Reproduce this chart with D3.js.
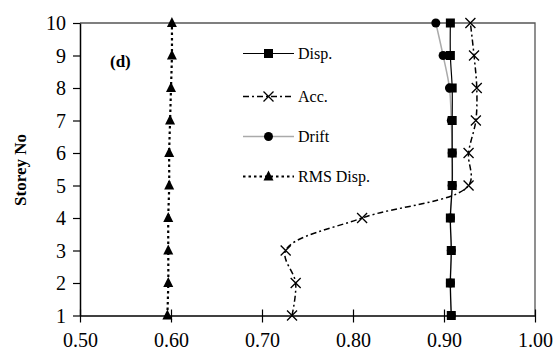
<!DOCTYPE html>
<html><head><meta charset="utf-8">
<script src="https://cdn.jsdelivr.net/npm/d3@7"></script>
<style>
html,body{margin:0;padding:0;background:#fff;}
svg{display:block;font-family:"Liberation Serif","Times New Roman",serif;}
</style></head>
<body>
<svg id="c" width="554" height="359"></svg>
<script>
const storeys = [1,2,3,4,5,6,7,8,9,10];
const dispValues = [0.908,0.907,0.908,0.907,0.909,0.909,0.909,0.909,0.907,0.907];
const accValues = [0.733,0.737,0.726,0.810,0.927,0.927,0.935,0.936,0.933,0.929];
const driftValues = [0.908,0.907,0.908,0.907,0.909,0.909,0.908,0.906,0.899,0.891];
const rmsValues = [0.596,0.597,0.597,0.597,0.598,0.598,0.599,0.600,0.601,0.601];
const xTicks = [0.5,0.6,0.7,0.8,0.9,1.0];
const yTicks = [1,2,3,4,5,6,7,8,9,10];
const seriesNames = ["Disp.","Acc.","Drift","RMS Disp."];

const svg = d3.select("#c");
const x = d3.scaleLinear().domain([0.5,1.0]).range([80,535]);
const y = d3.scaleLinear().domain([1,10]).range([315.5,23]);

// frame (top/right)
svg.append("path").attr("d",`M${x(0.5)},${y(10)}H${x(1.0)}V${y(1)}`)
  .attr("fill","none").attr("stroke","#555").attr("stroke-width",1.3);

// axes
const gx = svg.append("g").attr("transform",`translate(0,${y(1)})`)
  .call(d3.axisBottom(x).tickValues(xTicks).tickSize(7).tickSizeOuter(0).tickFormat(d3.format(".2f")));
gx.select(".domain").attr("stroke","#000").attr("stroke-width",1.5);
gx.selectAll(".tick line").attr("y1",-6).attr("stroke","#000").attr("stroke-width",1.2);
gx.selectAll(".tick text").attr("font-family","Liberation Serif, serif").attr("font-size",20).attr("fill","#000").attr("dy",0).attr("y",31);

const gy = svg.append("g").attr("transform",`translate(${x(0.5)},0)`)
  .call(d3.axisLeft(y).tickValues(yTicks).tickSize(7).tickSizeOuter(0).tickFormat(d3.format("d")));
gy.select(".domain").attr("stroke","#000").attr("stroke-width",1.5);
gy.selectAll(".tick line").attr("stroke","#000").attr("stroke-width",1.2);
gy.selectAll(".tick text").attr("font-family","Liberation Serif, serif").attr("font-size",20).attr("fill","#000").attr("x",-14).attr("dy","0.34em");

// y title
svg.append("text").attr("transform","translate(26,170) rotate(-90)")
  .attr("text-anchor","middle").attr("font-weight","bold").attr("font-size",17).text("Storey No");
// panel label
svg.append("text").attr("x",110).attr("y",67).attr("font-weight","bold").attr("font-size",17).text("(d)");

const curve = d3.curveCatmullRom.alpha(0.5);
const styles = [
  {vals:dispValues, stroke:"#000", w:1.2, dash:null, marker:"square"},
  {vals:accValues, stroke:"#000", w:1.5, dash:"6,3,2,3", marker:"x"},
  {vals:driftValues, stroke:"#aaa", w:1.5, dash:null, marker:"circle"},
  {vals:rmsValues, stroke:"#000", w:2.2, dash:"2.5,3", marker:"triangle"}
];

function drawMarker(g, type, cx, cy){
  if(type==="square") g.append("rect").attr("x",cx-4.5).attr("y",cy-4.5).attr("width",9).attr("height",9).attr("fill","#000");
  else if(type==="circle") g.append("circle").attr("cx",cx).attr("cy",cy).attr("r",4.5).attr("fill","#000");
  else if(type==="triangle") g.append("path").attr("d",`M${cx},${cy-6}L${cx+5},${cy+4}L${cx-5},${cy+4}Z`).attr("fill","#000");
  else if(type==="x") g.append("path").attr("d",`M${cx-5},${cy-5}L${cx+5},${cy+5}M${cx+5},${cy-5}L${cx-5},${cy+5}`).attr("stroke","#000").attr("stroke-width",1.3).attr("fill","none");
}

// draw in order: RMS, Drift, Acc, Disp
[3,2,1,0].forEach(i=>{
  const s = styles[i];
  const pts = storeys.map((st,k)=>[x(s.vals[k]), y(st)]);
  const g = svg.append("g");
  g.append("path").attr("d",d3.line().curve(curve)(pts)).attr("fill","none")
    .attr("stroke",s.stroke).attr("stroke-width",s.w).attr("stroke-dasharray",s.dash);
  pts.forEach(p=>drawMarker(g,s.marker,p[0],p[1]));
});

// legend
const legY = [53.5, 96.5, 136.5, 176.5];
seriesNames.forEach((name,i)=>{
  const s = styles[i];
  const g = svg.append("g");
  g.append("line").attr("x1",243).attr("x2",294).attr("y1",legY[i]).attr("y2",legY[i])
    .attr("stroke",s.stroke).attr("stroke-width",s.w).attr("stroke-dasharray",s.dash);
  drawMarker(g,s.marker,268.5,legY[i]);
  g.append("text").attr("x",298).attr("y",legY[i]).attr("dy","0.34em").attr("font-size",16).text(name);
});
</script>
</body></html>
